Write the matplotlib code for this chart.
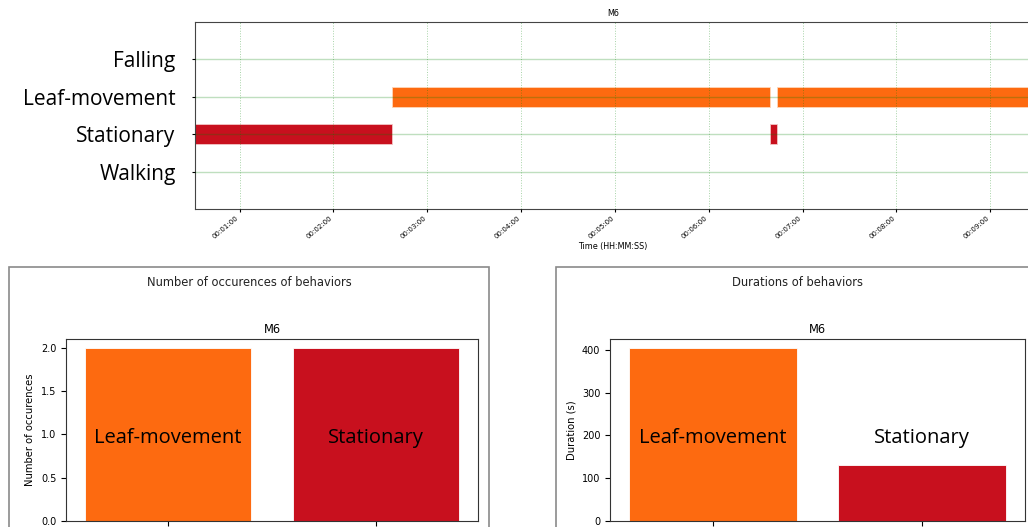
import matplotlib
matplotlib.use("Agg")
import matplotlib.pyplot as plt
from matplotlib.patches import Rectangle
from matplotlib.ticker import FuncFormatter

# Behaviour rows (bottom to top) and timeline segments in seconds
behaviors = ["Walking", "Stationary", "Leaf-movement", "Falling"]
stationary_segments = [(31.5, 126.0), (399.4, 4.0)]
leaf_segments = [(157.5, 241.9), (403.4, 162.6)]
time_ticks = [60, 120, 180, 240, 300, 360, 420, 480, 540]

# Summary per behaviour
summary_labels = ["Leaf-movement", "Stationary"]
occurrences = [2, 2]
durations = [405, 130]

orange = "#fd6a10"
red = "#c8101e"
colors = [orange, red]


def hms(x, pos):
    x = int(round(x))
    return "%02d:%02d:%02d" % (x // 3600, (x % 3600) // 60, x % 60)


fig = plt.figure(figsize=(10.28, 5.27), dpi=100)

# ----------------- Timeline -----------------
ax = fig.add_axes([0.1897, 0.6034, 0.8132, 0.3548])
ax.broken_barh(stationary_segments, (1 - 0.26, 0.52), facecolor=red,
               edgecolor="#f3c6c6", linewidth=0.6, zorder=1)
ax.broken_barh(leaf_segments, (2 - 0.26, 0.52), facecolor=orange,
               edgecolor="#ffd6b8", linewidth=0.6, zorder=1)
ax.set_xlim(31.5, 566)
ax.set_ylim(-1, 4)
ax.set_yticks(range(len(behaviors)))
ax.set_yticklabels(behaviors, fontsize=15, family="Open Sans")
ax.tick_params(axis="y", length=2, pad=12)
ax.set_xticks(time_ticks)
ax.xaxis.set_major_formatter(FuncFormatter(hms))
ax.tick_params(axis="x", labelsize=5, length=2, pad=2)
for lbl in ax.get_xticklabels():
    lbl.set_rotation(40)
    lbl.set_ha("right")
ax.grid(axis="y", color="green", alpha=0.25, linewidth=1.0, zorder=3)
ax.grid(axis="x", color="green", alpha=0.35, linewidth=0.7, linestyle=":", zorder=3)
ax.set_axisbelow(False)
ax.set_title("M6", fontsize=5.8, pad=4)
ax.set_xlabel("Time (HH:MM:SS)", fontsize=5.8, labelpad=2)
for s in ax.spines.values():
    s.set_color("#444444")

# ----------------- Panel frames -----------------
fig.patches.append(Rectangle((8.5 / 1028, -0.05), 480 / 1028, 0.05 + (527 - 267) / 527,
                             transform=fig.transFigure, fill=False,
                             edgecolor="#8a8a8a", linewidth=1.2))
fig.patches.append(Rectangle((556 / 1028, -0.05), 500 / 1028, 0.05 + (527 - 267) / 527,
                             transform=fig.transFigure, fill=False,
                             edgecolor="#8a8a8a", linewidth=1.2))
fig.text(0.2422, 1 - 282 / 527, "Number of occurences of behaviors",
         ha="center", va="center", fontsize=8.3, color="#222222")
fig.text(0.7753, 1 - 282 / 527, "Durations of behaviors",
         ha="center", va="center", fontsize=8.3, color="#222222")

# ----------------- Occurrences -----------------
ax1 = fig.add_axes([0.0642, 0.01139, 0.4008, 0.3454])
ax1.bar(range(len(summary_labels)), occurrences, color=colors, width=0.8,
        edgecolor="white", linewidth=0.6)
ax1.set_xticks(range(len(summary_labels)))
ax1.set_xticklabels([])
ax1.set_yticks([0.0, 0.5, 1.0, 1.5, 2.0])
ax1.tick_params(labelsize=7)
ax1.set_ylabel("Number of occurences", fontsize=7.2)
ax1.set_title("M6", fontsize=8.3, pad=4)

# ----------------- Durations -----------------
ax2 = fig.add_axes([0.5934, 0.01139, 0.4037, 0.3454])
ax2.bar(range(len(summary_labels)), durations, color=colors, width=0.8,
        edgecolor="white", linewidth=0.6)
ax2.set_xticks(range(len(summary_labels)))
ax2.set_xticklabels([])
ax2.set_yticks([0, 100, 200, 300, 400])
ax2.tick_params(labelsize=7)
ax2.set_ylabel("Duration (s)", fontsize=7.2)
ax2.set_title("M6", fontsize=8.3, pad=4)

for a in (ax1, ax2):
    for i, name in enumerate(summary_labels):
        a.annotate(name, xy=(i, 0.456), xycoords=("data", "axes fraction"),
                   ha="center", va="center", fontsize=14.5, family="Open Sans",
                   color="black")
    for s in a.spines.values():
        s.set_color("#333333")

fig.savefig("out.png", dpi=100)
